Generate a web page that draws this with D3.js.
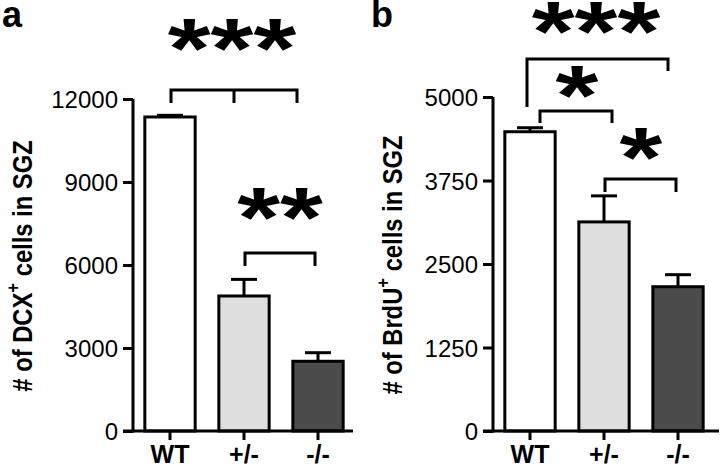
<!DOCTYPE html>
<html><head><meta charset="utf-8">
<script src="https://cdn.jsdelivr.net/npm/d3@7"></script>
<style>body{margin:0;background:#fff}svg{display:block}text{font-family:"Liberation Sans",Arial,sans-serif}</style>
</head><body><svg id="c" width="720" height="464"></svg>
<script>
const categories = ["WT", "+/-", "-/-"];
const dcxMeans = [11350, 4880, 2520];
const dcxErrTop = [11410, 5480, 2830];
const dcxTicks = [0, 3000, 6000, 9000, 12000];
const brduMeans = [4480, 3130, 2160];
const brduErrTop = [4540, 3520, 2340];
const brduTicks = [0, 1250, 2500, 3750, 5000];
const barColors = ["#ffffff", "#dedede", "#4b4b4b"];

const svg = d3.select("#c");
const FONT = '"Liberation Sans",Arial,sans-serif';

function panel(o) {
  const g = svg.append("g");
  const y = d3.scaleLinear().domain([0, o.max]).range([431, o.top]);
  const x = d3.scaleBand().domain(categories).range([o.axisX, o.axisX + 222]).paddingInner(0.32).paddingOuter(0.16);
  g.selectAll("rect.bar").data(categories).join("rect")
    .attr("x", d => x(d)).attr("width", x.bandwidth())
    .attr("y", (d, i) => y(o.means[i])).attr("height", (d, i) => 431 - y(o.means[i]))
    .attr("fill", (d, i) => barColors[i]).attr("stroke", "#000").attr("stroke-width", 3);
  const cx = d => x(d) + x.bandwidth() / 2;
  g.selectAll("line.err").data(categories).join("line")
    .attr("x1", cx).attr("x2", cx)
    .attr("y1", (d, i) => y(o.means[i])).attr("y2", (d, i) => y(o.err[i]))
    .attr("stroke", "#000").attr("stroke-width", 3);
  g.selectAll("line.cap").data(categories).join("line")
    .attr("x1", d => cx(d) - 13).attr("x2", d => cx(d) + 13)
    .attr("y1", (d, i) => y(o.err[i])).attr("y2", (d, i) => y(o.err[i]))
    .attr("stroke", "#000").attr("stroke-width", 3);
  const ya = g.append("g").attr("transform", `translate(${o.axisX},0)`)
    .call(d3.axisLeft(y).tickValues(o.ticks).tickSize(10).tickSizeOuter(0).tickPadding(5).tickFormat(d3.format("d")));
  ya.select(".domain").attr("stroke-width", 3).attr("d", `M0,${o.top}V432.5`);
  ya.selectAll(".tick line").attr("stroke-width", 3);
  ya.selectAll(".tick text").attr("font-size", 24).attr("font-family", FONT).attr("fill", "#000").attr("dy", "0.36em");
  const xa = g.append("g").attr("transform", "translate(0,431)")
    .call(d3.axisBottom(x).tickSize(9).tickSizeOuter(0).tickPadding(5));
  xa.select(".domain").attr("stroke-width", 3).attr("d", `M${o.axisX - 10},0H${o.xEnd}`);
  xa.selectAll(".tick line").attr("stroke-width", 3);
  xa.selectAll(".tick text").attr("font-size", 25).attr("font-weight", "bold").attr("font-family", FONT).attr("fill", "#000").attr("dy", "0.7em");
  const yl = g.append("text").attr("transform", `translate(${o.labelX},${o.labelY}) rotate(-90) scale(0.88,1)`)
    .attr("text-anchor", "middle").attr("font-size", 27).attr("font-weight", "bold");
  yl.append("tspan").text(o.label[0]);
  yl.append("tspan").attr("dy", -13).attr("font-size", 19).text("+");
  yl.append("tspan").attr("dy", 13).text("  " + o.label[1]);
  g.append("text").attr("x", o.letterX).attr("y", 27).attr("font-size", 36).attr("font-weight", "bold").text(o.letter);
  o.brackets.forEach(b => {
    const x1 = cx(categories[b.from]) + b.d1, x2 = cx(categories[b.to]) + b.d2;
    const p = d3.path();
    p.moveTo(x1, b.yl); p.lineTo(x1, b.y); p.lineTo(x2, b.y); p.lineTo(x2, b.yr);
    if (b.mid !== undefined) { const xm = cx(categories[b.mid]) + b.dm; p.moveTo(xm, b.y); p.lineTo(xm, b.ym); }
    g.append("path").attr("d", p.toString()).attr("fill", "none").attr("stroke", "#000").attr("stroke-width", 3);
    g.append("text").attr("transform", `translate(${b.sx},${b.sy}) scale(1,0.78)`).attr("text-anchor", "middle")
      .attr("font-size", 110).attr("font-weight", "bold").text(b.stars);
  });
}

panel({ means: dcxMeans, err: dcxErrTop, ticks: dcxTicks, max: 12000, top: 99, axisX: 133, xEnd: 353,
  label: ["# of DCX", "cells in SGZ"], labelX: 32, labelY: 266, letter: "a", letterX: 2,
  brackets: [
    { from: 0, to: 2, mid: 1, d1: 1, d2: -21, dm: -10, y: 90, yl: 103, yr: 103, ym: 103, stars: "***", sx: 232, sy: 78 },
    { from: 1, to: 2, d1: 1, d2: -3, y: 253, yl: 266, yr: 266, stars: "**", sx: 280, sy: 247 }
  ] });
panel({ means: brduMeans, err: brduErrTop, ticks: brduTicks, max: 5000, top: 97, axisX: 493, xEnd: 719,
  label: ["# of BrdU", "cells in SGZ"], labelX: 402, labelY: 265, letter: "b", letterX: 371,
  brackets: [
    { from: 0, to: 2, d1: -3, d2: -10, y: 59, yl: 107, yr: 71, stars: "***", sx: 596, sy: 61 },
    { from: 0, to: 1, d1: 10, d2: 8, y: 111, yl: 123, yr: 123, stars: "*", sx: 577, sy: 125 },
    { from: 1, to: 2, d1: 1, d2: -2, y: 179, yl: 192, yr: 192, stars: "*", sx: 641, sy: 187 }
  ] });
</script></body></html>
